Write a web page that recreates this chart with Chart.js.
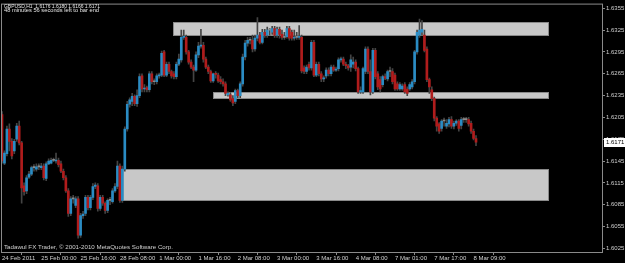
<!DOCTYPE html>
<html><head><meta charset="utf-8">
<script src="https://cdn.jsdelivr.net/npm/chart.js@4.4.1/dist/chart.umd.min.js"></script>
<style>html,body{margin:0;padding:0;background:#000;overflow:hidden}canvas{display:block}</style>
</head><body>
<canvas id="c" width="625" height="263" style="width:625px;height:263px"></canvas>
<script>
const symbolTitle = "GBPUSD,H1  1.6176 1.6180 1.6166 1.6171";
const timerText = "48 minutes 56 seconds left to bar end";
const footerText = "Tadawul FX Trader, \u00A9 2001-2010 MetaQuotes Software Corp.";

const opens = [
1.6209,1.6142,1.6155,1.6189,1.6172,1.6159,1.6175,1.6193,1.6170,1.6111,
1.6104,1.6123,1.6127,1.6136,1.6134,1.6137,1.6136,1.6138,1.6121,1.6141,
1.6142,1.6146,1.6145,1.6146,1.6141,1.6131,1.6122,1.6104,1.6073,1.6093,
1.6084,1.6093,1.6043,1.6070,1.6073,1.6095,1.6081,1.6095,1.6110,1.6111,
1.6080,1.6095,1.6087,1.6077,1.6091,1.6089,1.6104,1.6110,1.6138,1.6091,
1.6134,1.6189,1.6223,1.6227,1.6234,1.6224,1.6235,1.6262,1.6244,1.6246,
1.6243,1.6265,1.6254,1.6254,1.6262,1.6263,1.6295,1.6263,1.6278,1.6268,
1.6265,1.6261,1.6278,1.6284,1.6315,1.6315,1.6295,1.6281,1.6274,1.6270,
1.6291,1.6303,1.6304,1.6285,1.6274,1.6268,1.6255,1.6265,1.6263,1.6257,
1.6254,1.6251,1.6236,1.6236,1.6231,1.6227,1.6242,1.6235,1.6251,1.6288,
1.6307,1.6311,1.6311,1.6299,1.6314,1.6318,1.6308,1.6322,1.6318,1.6325,
1.6322,1.6327,1.6318,1.6326,1.6319,1.6315,1.6316,1.6327,1.6322,1.6314,
1.6315,1.6315,1.6315,1.6273,1.6268,1.6278,1.6273,1.6308,1.6263,1.6278,
1.6265,1.6258,1.6262,1.6270,1.6265,1.6274,1.6270,1.6272,1.6284,1.6285,
1.6278,1.6276,1.6274,1.6278,1.6281,1.6272,1.6240,1.6240,1.6268,1.6299,
1.6268,1.6240,1.6297,1.6265,1.6257,1.6250,1.6261,1.6258,1.6268,1.6268,
1.6263,1.6251,1.6244,1.6244,1.6250,1.6244,1.6244,1.6247,1.6254,1.6295,
1.6318,1.6322,1.6318,1.6299,1.6257,1.6243,1.6231,1.6204,1.6196,1.6190,
1.6200,1.6193,1.6196,1.6202,1.6193,1.6197,1.6200,1.6194,1.6202,1.6202,
1.6202,1.6197,1.6186,1.6176];
const highs = [
1.6213,1.6159,1.6193,1.6196,1.6176,1.6175,1.6197,1.6200,1.6172,1.6115,
1.6125,1.6131,1.6138,1.6140,1.6141,1.6141,1.6142,1.6141,1.6144,1.6148,
1.6149,1.6149,1.6156,1.6149,1.6145,1.6134,1.6125,1.6107,1.6096,1.6098,
1.6096,1.6096,1.6073,1.6076,1.6098,1.6098,1.6098,1.6114,1.6115,1.6114,
1.6098,1.6098,1.6089,1.6093,1.6095,1.6107,1.6114,1.6145,1.6141,1.6138,
1.6192,1.6227,1.6232,1.6238,1.6236,1.6243,1.6265,1.6265,1.6250,1.6248,
1.6268,1.6268,1.6258,1.6265,1.6266,1.6296,1.6297,1.6281,1.6281,1.6270,
1.6268,1.6281,1.6292,1.6325,1.6325,1.6318,1.6297,1.6284,1.6277,1.6295,
1.6308,1.6326,1.6308,1.6288,1.6277,1.6270,1.6266,1.6268,1.6266,1.6261,
1.6258,1.6254,1.6240,1.6239,1.6235,1.6244,1.6244,1.6254,1.6292,1.6311,
1.6315,1.6315,1.6318,1.6318,1.6342,1.6322,1.6326,1.6326,1.6329,1.6327,
1.6330,1.6330,1.6329,1.6329,1.6325,1.6322,1.6330,1.6330,1.6325,1.6325,
1.6322,1.6331,1.6318,1.6276,1.6277,1.6281,1.6311,1.6311,1.6281,1.6281,
1.6268,1.6262,1.6273,1.6273,1.6277,1.6277,1.6274,1.6287,1.6288,1.6288,
1.6281,1.6278,1.6291,1.6288,1.6284,1.6274,1.6247,1.6274,1.6302,1.6302,
1.6284,1.6300,1.6300,1.6268,1.6261,1.6263,1.6265,1.6270,1.6274,1.6272,
1.6266,1.6254,1.6253,1.6251,1.6253,1.6247,1.6253,1.6257,1.6297,1.6325,
1.6340,1.6338,1.6325,1.6302,1.6259,1.6247,1.6233,1.6206,1.6198,1.6202,
1.6204,1.6202,1.6205,1.6206,1.6200,1.6202,1.6202,1.6205,1.6205,1.6205,
1.6205,1.6200,1.6189,1.6180];
const lows = [
1.6142,1.6140,1.6152,1.6159,1.6148,1.6155,1.6172,1.6167,1.6087,1.6098,
1.6100,1.6121,1.6125,1.6131,1.6131,1.6133,1.6133,1.6119,1.6118,1.6140,
1.6141,1.6144,1.6142,1.6137,1.6129,1.6119,1.6102,1.6069,1.6070,1.6087,
1.6081,1.6039,1.6040,1.6066,1.6070,1.6078,1.6078,1.6092,1.6107,1.6076,
1.6077,1.6084,1.6073,1.6074,1.6085,1.6087,1.6102,1.6107,1.6088,1.6088,
1.6131,1.6186,1.6219,1.6221,1.6221,1.6220,1.6232,1.6240,1.6240,1.6240,
1.6240,1.6251,1.6250,1.6251,1.6259,1.6261,1.6261,1.6261,1.6265,1.6259,
1.6258,1.6258,1.6276,1.6281,1.6312,1.6292,1.6278,1.6272,1.6254,1.6268,
1.6287,1.6300,1.6281,1.6272,1.6265,1.6253,1.6253,1.6259,1.6253,1.6251,
1.6248,1.6235,1.6234,1.6227,1.6221,1.6224,1.6232,1.6232,1.6248,1.6284,
1.6303,1.6306,1.6295,1.6296,1.6310,1.6306,1.6306,1.6315,1.6315,1.6318,
1.6319,1.6315,1.6315,1.6314,1.6312,1.6312,1.6314,1.6311,1.6311,1.6311,
1.6312,1.6312,1.6266,1.6265,1.6265,1.6270,1.6270,1.6261,1.6261,1.6262,
1.6254,1.6254,1.6259,1.6262,1.6262,1.6268,1.6268,1.6269,1.6281,1.6276,
1.6272,1.6270,1.6268,1.6273,1.6269,1.6238,1.6238,1.6238,1.6265,1.6265,
1.6236,1.6238,1.6258,1.6243,1.6240,1.6247,1.6257,1.6255,1.6261,1.6251,
1.6242,1.6242,1.6242,1.6242,1.6238,1.6235,1.6242,1.6244,1.6251,1.6292,
1.6315,1.6318,1.6295,1.6254,1.6238,1.6228,1.6200,1.6186,1.6183,1.6186,
1.6193,1.6190,1.6192,1.6190,1.6189,1.6194,1.6186,1.6189,1.6198,1.6198,
1.6193,1.6183,1.6174,1.6166];
const closes = [
1.6145,1.6156,1.6189,1.6172,1.6152,1.6172,1.6193,1.6170,1.6108,1.6103,
1.6122,1.6127,1.6136,1.6136,1.6137,1.6137,1.6138,1.6122,1.6141,1.6145,
1.6146,1.6146,1.6146,1.6140,1.6131,1.6122,1.6104,1.6073,1.6093,1.6093,
1.6093,1.6043,1.6070,1.6072,1.6095,1.6081,1.6095,1.6110,1.6112,1.6080,
1.6095,1.6087,1.6077,1.6091,1.6091,1.6104,1.6110,1.6138,1.6091,1.6134,
1.6189,1.6223,1.6229,1.6234,1.6224,1.6235,1.6261,1.6244,1.6245,1.6243,
1.6265,1.6254,1.6254,1.6262,1.6263,1.6293,1.6263,1.6278,1.6268,1.6262,
1.6261,1.6278,1.6285,1.6315,1.6316,1.6295,1.6281,1.6274,1.6270,1.6291,
1.6303,1.6304,1.6285,1.6274,1.6268,1.6255,1.6265,1.6264,1.6255,1.6254,
1.6251,1.6238,1.6238,1.6229,1.6225,1.6242,1.6235,1.6251,1.6288,1.6307,
1.6311,1.6311,1.6299,1.6314,1.6318,1.6308,1.6322,1.6318,1.6325,1.6325,
1.6327,1.6318,1.6326,1.6319,1.6315,1.6315,1.6327,1.6314,1.6314,1.6315,
1.6315,1.6316,1.6269,1.6268,1.6274,1.6273,1.6308,1.6263,1.6278,1.6265,
1.6258,1.6259,1.6270,1.6265,1.6274,1.6270,1.6271,1.6284,1.6285,1.6278,
1.6276,1.6273,1.6284,1.6281,1.6272,1.6240,1.6242,1.6272,1.6299,1.6268,
1.6240,1.6297,1.6261,1.6247,1.6244,1.6261,1.6259,1.6268,1.6268,1.6254,
1.6244,1.6244,1.6250,1.6248,1.6240,1.6238,1.6250,1.6254,1.6295,1.6322,
1.6325,1.6326,1.6297,1.6257,1.6247,1.6231,1.6204,1.6193,1.6186,1.6200,
1.6200,1.6197,1.6202,1.6193,1.6197,1.6200,1.6190,1.6202,1.6202,1.6202,
1.6196,1.6186,1.6176,1.6171];

const timeTickIndex = [0,16,32,48,64,80,96,112,128,144,160,176,192];
const timeTickLabels = ["24 Feb 2011","25 Feb 00:00","25 Feb 16:00","28 Feb 08:00","1 Mar 00:00","1 Mar 16:00","2 Mar 08:00","3 Mar 00:00","3 Mar 16:00","4 Mar 08:00","7 Mar 01:00","7 Mar 17:00","8 Mar 09:00"];
const priceTicks = [1.6025,1.6055,1.6085,1.6115,1.6145,1.6175,1.6205,1.6235,1.6265,1.6295,1.6325,1.6355];

const zoneFrom   = [69.7, 86.0, 49.0];
const zoneTo     = [222.8, 222.8, 222.8];
const zoneTop    = [1.6336, 1.6240, 1.6134];
const zoneBottom = [1.6317, 1.6230, 1.6090];

const currentPrice = 1.6171;

const UP = '#2a8cc4', DOWN = '#b01c1c', DOJI = '#8a8a8a', WICK = '#444444';
const FONT = 'Liberation Sans, Arial, sans-serif';

const idx = opens.map((_, i) => i);
const bodyData = idx.map(i => ({x: i, y: [opens[i], closes[i]]}));
const wickData = idx.map(i => ({x: i, y: [lows[i], highs[i]]}));
const bodyColors = idx.map(i => closes[i] > opens[i] ? UP : (closes[i] < opens[i] ? DOWN : DOJI));

function fitText(c, text, x, y, w) {
  const m = c.measureText(text).width;
  c.save();
  c.translate(x, y);
  c.scale(w / m, 1);
  c.fillText(text, 0, 0);
  c.restore();
}

const mtPlugin = {
  id: 'mt',
  beforeDraw(chart) {
    const c = chart.ctx;
    c.save(); c.fillStyle = '#000'; c.fillRect(0, 0, chart.width, chart.height); c.restore();
  },
  beforeDatasetsDraw(chart) {
    const c = chart.ctx, xs = chart.scales.x, ys = chart.scales.y, a = chart.chartArea;
    c.save();
    c.beginPath(); c.rect(a.left, a.top, a.right - a.left, a.bottom - a.top); c.clip();
    for (let k = 0; k < zoneFrom.length; k++) {
      const x0 = Math.round(xs.getPixelForValue(zoneFrom[k]));
      const x1 = Math.round(xs.getPixelForValue(zoneTo[k]));
      const y0 = Math.round(ys.getPixelForValue(zoneTop[k]));
      const y1 = Math.round(ys.getPixelForValue(zoneBottom[k]));
      c.fillStyle = '#c8c8c8';
      c.fillRect(x0, y0, x1 - x0, y1 - y0);
      c.strokeStyle = '#8a8a8a'; c.lineWidth = 1;
      c.strokeRect(x0 + 0.5, y0 + 0.5, x1 - x0 - 1, y1 - y0 - 1);
    }
    c.restore();
  },
  afterDraw(chart) {
    const c = chart.ctx, a = chart.chartArea, ys = chart.scales.y;
    c.save();
    c.strokeStyle = '#8a8a8a'; c.lineWidth = 1;
    c.strokeRect(a.left - 0.5, a.top - 0.5, a.right - a.left + 1, a.bottom - a.top + 1);
    c.fillStyle = '#e6e6e6';
    c.font = '6px ' + FONT; c.textBaseline = 'alphabetic'; c.textAlign = 'left';
    fitText(c, symbolTitle, 4, 7.5, 96);
    fitText(c, timerText, 4, 12, 95);
    c.fillStyle = '#d0d0d0';
    fitText(c, footerText, 4, 248.5, 169);
    const py = Math.round(ys.getPixelForValue(currentPrice));
    c.fillStyle = '#ffffff';
    c.fillRect(a.right + 2, py - 4, 21, 9);
    c.fillStyle = '#000000';
    c.textBaseline = 'middle';
    c.fillText(currentPrice.toFixed(4), a.right + 4, py + 0.5);
    c.restore();
  }
};

new Chart(document.getElementById('c'), {
  type: 'bar',
  data: {
    datasets: [
      { label: 'body', data: bodyData, backgroundColor: bodyColors, borderWidth: 0,
        barThickness: 2, minBarLength: 1, grouped: false, order: 0 },
      { label: 'wick', data: wickData, backgroundColor: WICK, borderWidth: 0,
        barThickness: 1, grouped: false, order: 1 }
    ]
  },
  options: {
    responsive: false,
    animation: false,
    devicePixelRatio: 1,
    layout: { padding: { left: 2, top: 2, right: 0, bottom: 0 } },
    plugins: { legend: { display: false }, tooltip: { enabled: false } },
    scales: {
      x: {
        type: 'linear', min: 0, max: 244.3, offset: false,
        grid: { drawOnChartArea: false, drawTicks: true, tickLength: 3, color: '#8a8a8a' },
        border: { display: false },
        afterBuildTicks: s => { s.ticks = timeTickIndex.map(v => ({ value: v })); },
        afterFit: s => { s.height = 11; },
        ticks: {
          autoSkip: false, maxRotation: 0, minRotation: 0, align: 'start', padding: 0,
          color: '#d0d0d0', font: { family: FONT, size: 6 },
          callback: v => timeTickLabels[timeTickIndex.indexOf(v)]
        }
      },
      y: {
        type: 'linear', position: 'right', min: 1.6020, max: 1.6360,
        grid: { drawOnChartArea: false, drawTicks: true, tickLength: 3, color: '#8a8a8a' },
        border: { display: false },
        afterBuildTicks: s => { s.ticks = priceTicks.map(v => ({ value: v })); },
        afterFit: s => { s.width = 23; },
        ticks: {
          padding: 1, color: '#d0d0d0', font: { family: FONT, size: 6 },
          callback: v => Number(v).toFixed(4)
        }
      }
    }
  },
  plugins: [mtPlugin]
});
</script>
</body></html>
